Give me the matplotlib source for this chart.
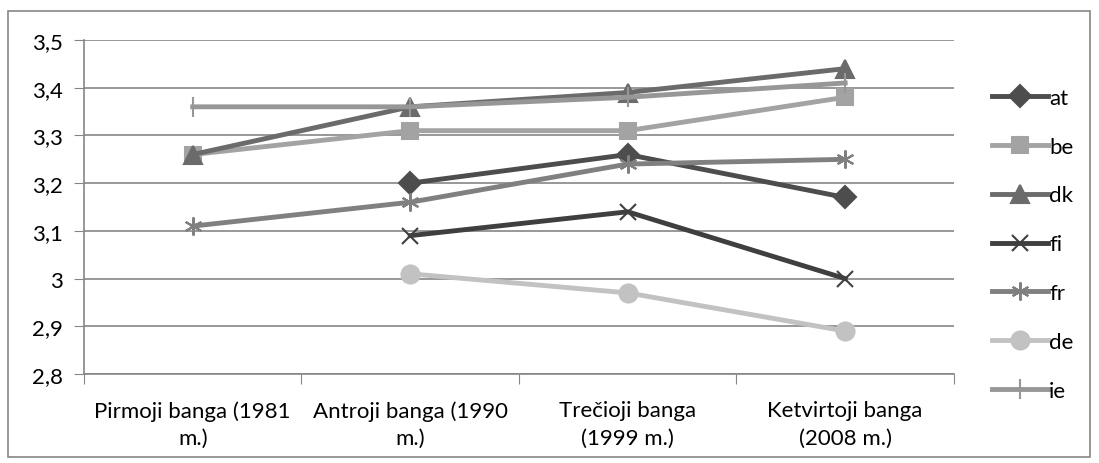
import numpy as np
import matplotlib.pyplot as plt
from matplotlib.patches import Rectangle

plt.rcParams['font.family'] = ['Lato', 'DejaVu Sans']

categories = ['Pirmoji banga (1981\nm.)', 'Antroji banga (1990\nm.)',
              'Trečioji banga\n(1999 m.)', 'Ketvirtoji banga\n(2008 m.)']
nan = np.nan
at = [nan, 3.20, 3.26, 3.17]
be = [3.26, 3.31, 3.31, 3.38]
dk = [3.26, 3.36, 3.39, 3.44]
fi = [nan, 3.09, 3.14, 3.00]
fr = [3.11, 3.16, 3.24, 3.25]
de = [nan, 3.01, 2.97, 2.89]
ie = [3.36, 3.36, 3.38, 3.41]

series = [
    ('at', at, '#4d4d4d', 'D', 11),
    ('be', be, '#a3a3a3', 's', 12),
    ('dk', dk, '#6b6b6b', '^', 13),
    ('fi', fi, '#3f3f3f', 'x', 11),
    ('fr', fr, '#808080', (6, 2, 0), 13),
    ('de', de, '#c2c2c2', 'o', 13),
    ('ie', ie, '#979797', '|', 15),
]

fig = plt.figure(figsize=(10.99, 4.64), dpi=100)
ax = fig.add_axes([0.0764, 0.1918, 0.7916, 0.7198])

x = np.arange(len(categories))
for name, vals, col, mk, ms in series:
    ax.plot(x, vals, color=col, lw=3.5, marker=mk, markersize=ms,
            markeredgecolor=col, markerfacecolor=col, markeredgewidth=1.5,
            label=name, zorder=3)

ax.set_xlim(-0.5, 3.5)
ax.set_ylim(2.8, 3.5)
yt = np.arange(2.8, 3.51, 0.1)
ax.set_yticks(yt)
ax.set_yticklabels([f'{v:.1f}'.replace('.', ',').replace(',0', '') for v in yt])
ax.set_xticks(np.arange(-0.5, 4, 1))
ax.set_xticklabels([])
ax.set_xticks(x, minor=True)
ax.set_xticklabels(categories, minor=True, linespacing=1.45)
ax.tick_params(axis='x', which='minor', length=0, pad=19, labelsize=16)
ax.tick_params(axis='x', which='major', length=7, color='#868686', direction='out')
ax.tick_params(axis='y', length=7, color='#868686', labelsize=16, pad=8)
ax.grid(axis='y', color='#868686', lw=1.2, zorder=0)
for s in ['top', 'right']:
    ax.spines[s].set_visible(False)
for s in ['left', 'bottom']:
    ax.spines[s].set_color('#868686')
    ax.spines[s].set_linewidth(1.2)

leg = fig.legend(loc='upper left', bbox_to_anchor=(0.903, 0.809), frameon=False,
                 fontsize=16, handlelength=2.5, handletextpad=0.05,
                 labelspacing=1.3, borderaxespad=0, borderpad=0)

fig.patches.append(Rectangle((0.007, 0.013), 0.985, 0.962, transform=fig.transFigure,
                             fill=False, edgecolor='#868686', lw=1.2))

fig.savefig('out.png', dpi=100)
